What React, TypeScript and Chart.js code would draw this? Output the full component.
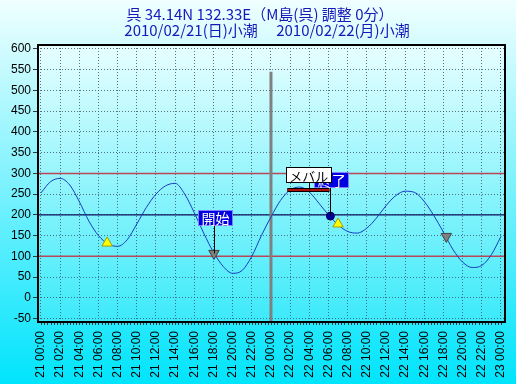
import React, { useEffect, useRef } from 'react';
import { Chart, registerables } from 'chart.js';

Chart.register(...registerables);

const titleLines = ['呉 34.14N 132.33E（M島(呉) 調整 0分）', '2010/02/21(日)小潮　 2010/02/22(月)小潮'];

const hours = [0, 1, 2, 3, 4, 5, 6, 7, 8, 9, 10, 11, 12, 13, 14, 15, 16, 17, 18, 19, 20, 21, 22, 23, 24,
  25, 26, 27, 28, 29, 30, 31, 32, 33, 34, 35, 36, 37, 38, 39, 40, 41, 42, 43, 44, 45, 46, 47, 48];
const tideLevels = [253, 280, 288, 272, 232, 185, 150, 130, 124, 140, 178, 218, 250, 270, 276, 250, 205, 155, 110, 76, 59, 66, 100, 150, 195,
  235, 260, 267, 255, 228, 200, 176, 160, 156, 168, 192, 222, 246, 257, 254, 232, 198, 158, 116, 86, 73, 78, 104, 148];

const xTickHours = [0, 2, 4, 6, 8, 10, 12, 14, 16, 18, 20, 22, 24, 26, 28, 30, 32, 34, 36, 38, 40, 42, 44, 46, 48];
const xTickLabels = ['21 00:00', '21 02:00', '21 04:00', '21 06:00', '21 08:00', '21 10:00', '21 12:00', '21 14:00',
  '21 16:00', '21 18:00', '21 20:00', '21 22:00', '22 00:00', '22 02:00', '22 04:00', '22 06:00', '22 08:00',
  '22 10:00', '22 12:00', '22 14:00', '22 16:00', '22 18:00', '22 20:00', '22 22:00', '23 00:00'];
const yTickValues = [-50, 0, 50, 100, 150, 200, 250, 300, 350, 400, 450, 500, 550, 600];

const riseHours = [6.9, 31.0];
const riseLevels = [132, 178];
const setHours = [18.05, 42.3];
const setLevels = [107, 148];
const endHour = 30.2;
const endLevel = 197;

const upperLevel = 300;
const middleLevel = 200;
const lowerLevel = 100;
const nowHour = 24;
const nowTop = 545;

const fishLabel = 'メバル';
const fishFrom = 25.7;
const fishTo = 30.1;
const fishLevel = 260;
const startLabel = '開始';
const endLabel = '終了';
const startBox = { hour: 18.2, level: 193 };
const endBox = { hour: 30.35, level: 285 };
const fishBox = { hour: 27.95, level: 296 };

const X_MIN = -0.31;
const X_MAX = 48.42;
const Y_MIN = -58.4;
const Y_MAX = 609.6;

const decor = {
  id: 'decor',
  beforeDraw(chart: any) {
    const { ctx, width, height, chartArea: a } = chart;
    ctx.save();
    let g = ctx.createLinearGradient(0, 0, 0, height);
    g.addColorStop(0, '#f0ffff');
    g.addColorStop(1, '#00e4fc');
    ctx.fillStyle = g;
    ctx.fillRect(0, 0, width, height);
    g = ctx.createLinearGradient(0, a.top, 0, a.bottom);
    g.addColorStop(0, '#e8ffff');
    g.addColorStop(1, '#3ceafa');
    ctx.fillStyle = g;
    ctx.fillRect(a.left, a.top, a.right - a.left, a.bottom - a.top);
    ctx.fillStyle = '#1818b8';
    ctx.font = '15px "Noto Sans CJK JP"';
    ctx.textAlign = 'center';
    ctx.textBaseline = 'middle';
    ctx.fillText(titleLines[0], 260, 14);
    ctx.fillText(titleLines[1], 267, 30);
    ctx.restore();
  },
  afterDatasetsDraw(chart: any) {
    const { ctx } = chart;
    const xs = chart.scales.x;
    const ys = chart.scales.y;
    ctx.save();
    ctx.textAlign = 'center';
    ctx.textBaseline = 'middle';
    const box = (text: string, hour: number, level: number, bg: string, fg: string, border: string, targetX: number, targetY: number, size: number) => {
      ctx.font = `${size}px "Noto Sans CJK JP"`;
      const cx = xs.getPixelForValue(hour);
      const cy = ys.getPixelForValue(level);
      const w = ctx.measureText(text).width + 7;
      const h = 16;
      ctx.strokeStyle = '#000000';
      ctx.lineWidth = 1;
      ctx.beginPath();
      ctx.moveTo(Math.round(targetX) + 0.5, cy + h / 2);
      ctx.lineTo(Math.round(targetX) + 0.5, targetY);
      ctx.stroke();
      ctx.fillStyle = bg;
      ctx.fillRect(Math.round(cx - w / 2), Math.round(cy - h / 2), Math.round(w), h);
      ctx.strokeStyle = border;
      ctx.strokeRect(Math.round(cx - w / 2) + 0.5, Math.round(cy - h / 2) + 0.5, Math.round(w) - 1, h - 1);
      ctx.fillStyle = fg;
      ctx.fillText(text, cx, cy + 1);
    };
    box(startLabel, startBox.hour, startBox.level, '#0000e0', '#ffffff', '#8080ff',
      xs.getPixelForValue(setHours[0]), ys.getPixelForValue(setLevels[0]), 14);
    box(endLabel, endBox.hour, endBox.level, '#0000e0', '#ffffff', '#8080ff',
      xs.getPixelForValue(endHour), ys.getPixelForValue(endLevel), 14);
    box(fishLabel, fishBox.hour, fishBox.level, '#ffffff', '#000000', '#000000',
      xs.getPixelForValue(fishBox.hour), ys.getPixelForValue(fishLevel), 13);
    ctx.restore();
  },
  afterDraw(chart: any) {
    const { ctx, chartArea: a } = chart;
    const xs = chart.scales.x;
    ctx.save();
    ctx.strokeStyle = '#303840';
    ctx.lineWidth = 1;
    ctx.beginPath();
    for (let m = 0; m <= 48 * 3; m++) {
      const px = Math.round(xs.getPixelForValue(m / 3)) + 0.5;
      ctx.moveTo(px, a.bottom);
      ctx.lineTo(px, a.bottom + 3);
    }
    ctx.stroke();
    ctx.strokeStyle = '#000000';
    ctx.lineWidth = 2;
    ctx.strokeRect(a.left, a.top, a.right - a.left, a.bottom - a.top);
    ctx.restore();
  },
};

export default function App() {
  const ref = useRef<HTMLCanvasElement | null>(null);
  useEffect(() => {
    document.body.style.margin = '0';
    const canvas = ref.current!;
    const hline = (level: number) => [{ x: X_MIN, y: level }, { x: X_MAX, y: level }];
    const chart = new Chart(canvas, {
      type: 'line',
      plugins: [decor],
      data: {
        datasets: [
          {
            data: hours.map((h, i) => ({ x: h, y: tideLevels[i] })),
            borderColor: '#1a3cc0',
            borderWidth: 1,
            pointRadius: 0,
            cubicInterpolationMode: 'monotone',
            order: 5,
          },
          { data: hline(upperLevel), borderColor: '#b84858', borderWidth: 1.5, pointRadius: 0, order: 9 },
          { data: hline(lowerLevel), borderColor: '#b84858', borderWidth: 1.5, pointRadius: 0, order: 9 },
          { data: hline(middleLevel), borderColor: '#101060', borderWidth: 1.2, pointRadius: 0, order: 9 },
          { data: [{ x: nowHour, y: nowTop }, { x: nowHour, y: Y_MIN }], borderColor: '#808080', borderWidth: 3, pointRadius: 0, order: 8 },
          { data: [{ x: fishFrom, y: fishLevel }, { x: fishTo, y: fishLevel }], borderColor: '#000000', borderWidth: 4, pointRadius: 0, order: 4 },
          { data: [{ x: fishFrom, y: fishLevel }, { x: fishTo, y: fishLevel }], borderColor: '#b01010', borderWidth: 2, pointRadius: 0, order: 3 },
          {
            data: riseHours.map((h, i) => ({ x: h, y: riseLevels[i] })),
            showLine: false,
            pointStyle: 'triangle',
            pointRadius: 6,
            backgroundColor: '#ffff00',
            borderColor: '#a0a000',
            borderWidth: 1,
            order: 1,
          },
          {
            data: setHours.map((h, i) => ({ x: h, y: setLevels[i] })),
            showLine: false,
            pointStyle: 'triangle',
            rotation: 180,
            pointRadius: 6,
            backgroundColor: '#808080',
            borderColor: '#404040',
            borderWidth: 1,
            order: 1,
          },
          {
            data: [{ x: endHour, y: endLevel }],
            showLine: false,
            pointStyle: 'circle',
            pointRadius: 4,
            backgroundColor: '#0000a0',
            borderColor: '#000060',
            borderWidth: 1,
            order: 1,
          },
        ],
      },
      options: {
        responsive: false,
        animation: false,
        layout: { padding: { top: 45, right: 11, left: 0, bottom: 0 } },
        plugins: { legend: { display: false }, tooltip: { enabled: false }, title: { display: false } },
        scales: {
          x: {
            type: 'linear',
            min: X_MIN,
            max: X_MAX,
            afterBuildTicks: (s: any) => { s.ticks = xTickHours.map((v) => ({ value: v })); },
            afterFit: (s: any) => { s.height = 62; s.paddingLeft = 0; s.paddingRight = 0; },
            ticks: {
              autoSkip: false,
              minRotation: 90,
              maxRotation: 90,
              padding: 9,
              color: '#000000',
              font: { family: '"Liberation Sans"', size: 12 },
              callback: (_v: any, i: number) => xTickLabels[i],
            },
            grid: { color: 'rgba(60,90,110,0.85)', lineWidth: 1, drawTicks: false },
            border: { display: false, dash: [1, 2] },
          },
          y: {
            type: 'linear',
            min: Y_MIN,
            max: Y_MAX,
            afterBuildTicks: (s: any) => { s.ticks = yTickValues.map((v) => ({ value: v })); },
            afterFit: (s: any) => { s.width = 38; s.paddingTop = 0; s.paddingBottom = 0; },
            ticks: {
              padding: 2,
              color: '#000000',
              font: { family: '"Liberation Sans"', size: 12 },
              callback: (v: any) => String(v),
            },
            grid: { color: 'rgba(60,90,110,0.85)', lineWidth: 1, tickLength: 5, tickColor: '#303840', tickBorderDash: [] },
            border: { display: false, dash: [1, 2] },
          },
        },
      },
    } as any);
    return () => chart.destroy();
  }, []);
  return <canvas ref={ref} width={516} height={384} style={{ display: 'block', width: 516, height: 384 }} />;
}
